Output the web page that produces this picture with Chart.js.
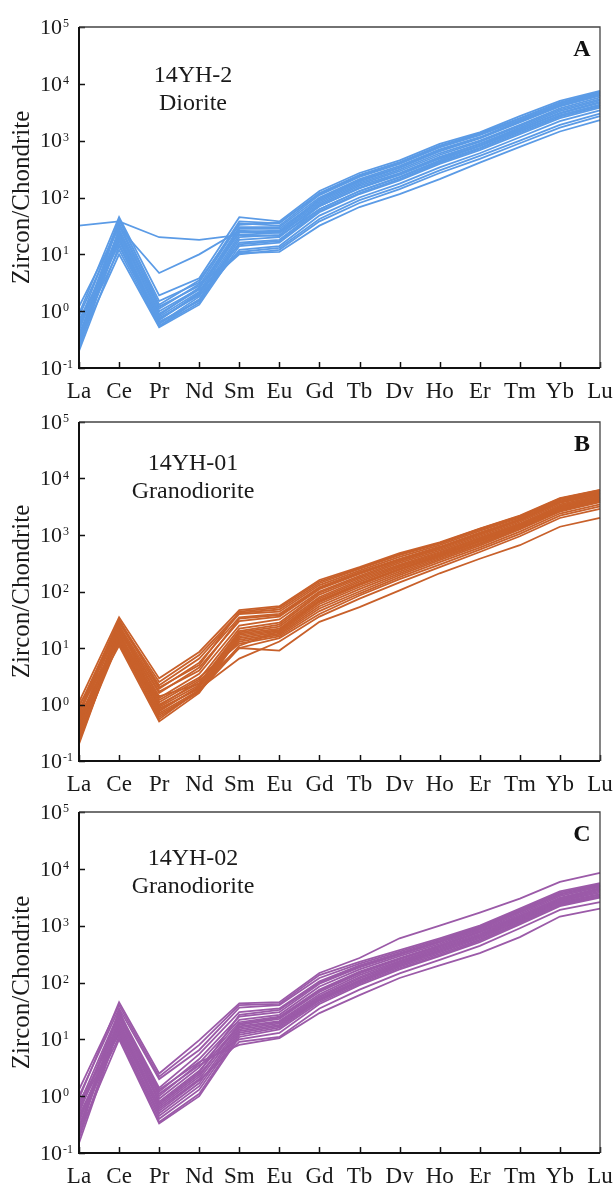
<!DOCTYPE html>
<html>
<head>
<meta charset="utf-8">
<title>Zircon REE patterns</title>
<script src="https://cdn.jsdelivr.net/npm/chart.js@4.4.1/dist/chart.umd.min.js"></script>
<style>
  html, body { margin: 0; padding: 0; background: #fff; }
  #wrap { position: relative; width: 615px; height: 1185px; overflow: hidden; }
  .panel { position: absolute; left: 0; width: 615px; }
  .panel canvas { display: block; }
</style>
</head>
<body>
<div id="wrap">
  <div class="panel" style="top:0;height:410px"><canvas id="chartA" width="615" height="410"></canvas></div>
  <div class="panel" style="top:395px;height:410px"><canvas id="chartB" width="615" height="410"></canvas></div>
  <div class="panel" style="top:788px;height:397px"><canvas id="chartC" width="615" height="397"></canvas></div>
</div>
<script>
// REE order on the x axis
const elements = ["La", "Ce", "Pr", "Nd", "Sm", "Eu", "Gd", "Tb", "Dy", "Ho", "Er", "Tm", "Yb", "Lu"];

// decades shown on the log axis (10^-1 .. 10^5)
const yExponents = [-1, 0, 1, 2, 3, 4, 5];

// 14YH-2 diorite, chondrite-normalised zircon spots
const seriesA = [
  [32, 38, 20, 18, 22, 21, 62, 130, 230, 450, 800, 1500, 2800, 4200],
  [1.2, 30, 4.7, 10, 26, 24, 70, 150, 260, 500, 880, 1600, 3000, 4600],
  [0.9, 45, 1.9, 3.8, 45, 38, 130, 270, 450, 880, 1400, 2700, 5000, 7500],
  [0.6, 40, 1.5, 3.2, 38, 35, 120, 250, 420, 820, 1350, 2500, 4700, 7200],
  [0.45, 35, 1.2, 2.8, 35, 32, 110, 230, 390, 760, 1250, 2300, 4400, 6800],
  [0.3, 28, 1.0, 2.5, 30, 30, 100, 210, 360, 700, 1150, 2200, 4200, 6500],
  [0.25, 25, 0.8, 2.2, 28, 28, 90, 190, 330, 650, 1100, 2100, 4000, 6200],
  [0.22, 22, 0.7, 2.0, 25, 26, 85, 180, 310, 600, 1000, 1900, 3700, 5800],
  [0.35, 20, 0.6, 1.8, 22, 24, 80, 170, 290, 560, 950, 1800, 3500, 5400],
  [0.5, 18, 0.55, 1.6, 20, 22, 75, 160, 270, 520, 880, 1700, 3300, 5100],
  [0.7, 15, 0.65, 1.5, 18, 20, 70, 145, 250, 480, 820, 1600, 3100, 4800],
  [0.4, 12, 0.55, 1.4, 16, 18, 62, 130, 225, 430, 750, 1450, 2800, 4300],
  [0.28, 10, 0.52, 1.3, 14, 16, 55, 115, 200, 390, 680, 1300, 2500, 3800],
  [0.2, 14, 0.6, 1.6, 12, 14, 48, 100, 175, 340, 600, 1150, 2200, 3400],
  [0.32, 17, 0.75, 1.9, 11, 13, 42, 90, 155, 300, 540, 1000, 1900, 3000],
  [0.55, 24, 0.9, 2.4, 10, 12, 38, 80, 140, 270, 480, 900, 1700, 2700],
  [0.8, 32, 1.1, 3.0, 10.5, 11, 32, 68, 115, 210, 410, 780, 1450, 2300],
  [0.24, 42, 1.3, 3.5, 33, 36, 115, 240, 400, 800, 1300, 2450, 4600, 7000],
  [0.38, 26, 0.85, 2.6, 24, 25, 95, 200, 340, 680, 1120, 2150, 4100, 6300],
  [0.3, 19, 0.7, 2.1, 15, 17, 58, 120, 210, 410, 720, 1380, 2650, 4000]
];

// 14YH-01 granodiorite
const seriesB = [
  [1.1, 35, 2.9, 8.5, 47, 55, 160, 270, 480, 740, 1300, 2200, 4500, 6300],
  [0.9, 30, 2.5, 7.5, 42, 48, 140, 250, 440, 700, 1250, 2100, 4300, 6000],
  [0.7, 28, 2.2, 6.5, 40, 44, 130, 235, 410, 660, 1180, 2000, 4100, 5800],
  [0.5, 25, 1.9, 5.5, 35, 40, 120, 220, 380, 620, 1100, 1900, 3900, 5600],
  [0.35, 22, 1.6, 4.5, 30, 36, 110, 205, 360, 590, 1050, 1850, 3800, 5400],
  [0.25, 20, 1.3, 3.5, 25, 32, 100, 190, 340, 560, 1000, 1800, 3700, 5200],
  [0.2, 18, 1.1, 2.8, 22, 28, 95, 180, 320, 530, 950, 1700, 3500, 5000],
  [0.3, 16, 1.0, 2.4, 20, 26, 88, 170, 300, 500, 900, 1600, 3300, 4800],
  [0.45, 15, 0.9, 2.2, 19, 24, 80, 160, 285, 480, 860, 1550, 3200, 4600],
  [0.6, 14, 0.8, 2.0, 18, 22, 75, 150, 270, 460, 820, 1500, 3100, 4500],
  [0.8, 13, 0.7, 1.8, 17, 21, 70, 140, 255, 440, 790, 1450, 3000, 4300],
  [1.0, 12, 0.6, 1.7, 16, 20, 65, 130, 240, 420, 760, 1400, 2900, 4200],
  [0.55, 11, 0.5, 1.6, 15, 19, 60, 120, 225, 400, 720, 1350, 2800, 4000],
  [0.4, 19, 0.75, 2.1, 14, 18, 55, 110, 210, 380, 690, 1300, 2700, 3900],
  [0.28, 24, 0.95, 2.6, 13, 17, 50, 100, 195, 360, 650, 1250, 2600, 3800],
  [0.22, 17, 1.2, 3.0, 12, 16, 45, 92, 180, 330, 600, 1150, 2400, 3500],
  [0.33, 21, 1.4, 2.3, 10, 15, 40, 85, 165, 300, 550, 1050, 2200, 3200],
  [0.65, 26, 0.85, 1.9, 6.5, 13, 36, 75, 145, 270, 500, 950, 2000, 2900],
  [0.48, 15, 0.65, 1.7, 10, 9, 29, 53, 105, 210, 380, 660, 1400, 2000],
  [0.75, 32, 2.0, 5.0, 44, 52, 150, 260, 460, 720, 1280, 2150, 4400, 6200],
  [0.38, 23, 1.7, 4.0, 33, 38, 115, 210, 370, 600, 1080, 1880, 3850, 5500],
  [0.26, 13, 0.55, 1.8, 11, 20, 68, 135, 245, 430, 780, 1420, 2950, 4250]
];

// 14YH-02 granodiorite
const seriesC = [
  [0.9, 45, 2.5, 9.7, 43, 45, 147, 270, 600, 1000, 1700, 3000, 5900, 8500],
  [1.3, 40, 2.2, 8.0, 40, 42, 135, 230, 370, 600, 1000, 2000, 4000, 5600],
  [1.0, 35, 2.0, 6.5, 36, 40, 120, 215, 350, 570, 960, 1900, 3800, 5400],
  [0.7, 30, 1.4, 5.5, 30, 35, 105, 200, 330, 540, 920, 1800, 3600, 5200],
  [0.5, 26, 1.2, 4.5, 25, 30, 95, 185, 310, 510, 880, 1700, 3500, 5000],
  [0.35, 22, 1.0, 3.8, 22, 27, 85, 170, 290, 480, 840, 1600, 3300, 4800],
  [0.25, 20, 0.9, 3.2, 20, 25, 75, 155, 270, 450, 800, 1500, 3100, 4600],
  [0.18, 18, 0.8, 2.8, 18, 23, 68, 145, 255, 430, 760, 1450, 3000, 4400],
  [0.15, 16, 0.7, 2.4, 17, 21, 62, 135, 240, 410, 720, 1400, 2900, 4200],
  [0.3, 15, 0.6, 2.0, 16, 20, 58, 125, 230, 390, 690, 1350, 2800, 4000],
  [0.45, 14, 0.5, 1.7, 15, 19, 55, 118, 220, 370, 660, 1300, 2700, 3800],
  [0.6, 13, 0.45, 1.5, 14, 18, 52, 110, 210, 355, 630, 1250, 2600, 3600],
  [0.8, 12, 0.4, 1.3, 13, 17, 50, 105, 200, 340, 600, 1200, 2500, 3500],
  [0.4, 11, 0.35, 1.1, 12, 16, 48, 100, 190, 320, 570, 1150, 2400, 3300],
  [0.22, 10, 0.33, 1.0, 11, 15, 45, 95, 180, 300, 540, 1100, 2300, 3200],
  [0.28, 24, 1.1, 3.5, 10, 13, 42, 90, 170, 290, 510, 1050, 2200, 3100],
  [0.55, 28, 1.3, 4.0, 8, 10.5, 29, 60, 120, 200, 330, 630, 1450, 2000],
  [0.38, 17, 0.55, 1.9, 9, 11, 35, 75, 145, 250, 440, 900, 1900, 2600],
  [0.2, 33, 0.75, 2.6, 27, 33, 100, 190, 320, 525, 900, 1750, 3550, 5100],
  [0.65, 19, 0.65, 2.2, 19, 24, 72, 150, 262, 440, 780, 1480, 3050, 4500]
];

const SERIF = '"Liberation Serif", "Times New Roman", serif';

const panels = [
  { id: "chartA", letter: "A", sample: "14YH-2", rock: "Diorite", color: "#5b9be6", data: seriesA, top: 27, bottom: 368, textY: 49 },
  { id: "chartB", letter: "B", sample: "14YH-01", rock: "Granodiorite", color: "#c8602a", data: seriesB, top: 27, bottom: 366, textY: 42 },
  { id: "chartC", letter: "C", sample: "14YH-02", rock: "Granodiorite", color: "#9b5aa8", data: seriesC, top: 24, bottom: 365, textY: 47 }
];

// frame, inward ticks, 10^n labels, axis title and panel captions
const decorPlugin = {
  id: "decor",
  afterDraw(chart, args, opts) {
    const { ctx, chartArea: a, scales } = chart;
    const xs = scales.x, ys = scales.y;
    ctx.save();

    // inward tick marks
    ctx.strokeStyle = "#111";
    ctx.lineWidth = 1.5;
    ctx.beginPath();
    yExponents.forEach(e => {
      const y = Math.round(ys.getPixelForValue(Math.pow(10, e))) + 0.5;
      ctx.moveTo(a.left, y); ctx.lineTo(a.left + 6, y);
    });
    elements.forEach((el, i) => {
      const x = Math.round(xs.getPixelForValue(i)) + 0.5;
      ctx.moveTo(x, a.bottom); ctx.lineTo(x, a.bottom - 6);
    });
    ctx.stroke();

    // frame: heavier left/bottom
    ctx.strokeStyle = "#444";
    ctx.lineWidth = 1.3;
    ctx.beginPath();
    ctx.moveTo(a.left, a.top); ctx.lineTo(a.right, a.top); ctx.lineTo(a.right, a.bottom);
    ctx.stroke();
    ctx.strokeStyle = "#111";
    ctx.lineWidth = 2;
    ctx.beginPath();
    ctx.moveTo(a.left, a.top); ctx.lineTo(a.left, a.bottom); ctx.lineTo(a.right, a.bottom);
    ctx.stroke();

    // y labels as 10 with superscript exponent
    ctx.fillStyle = "#1a1a1a";
    yExponents.forEach(e => {
      const y = ys.getPixelForValue(Math.pow(10, e));
      ctx.font = "22px " + SERIF;
      ctx.textAlign = "right";
      ctx.textBaseline = "middle";
      ctx.fillText("10", 62, y + 1);
      ctx.font = "12px " + SERIF;
      ctx.textAlign = "left";
      ctx.textBaseline = "top";
      ctx.fillText(String(e), 63, y - 9);
    });

    // axis title
    ctx.save();
    ctx.translate(22, (a.top + a.bottom) / 2);
    ctx.rotate(-Math.PI / 2);
    ctx.font = "25px " + SERIF;
    ctx.textAlign = "center";
    ctx.textBaseline = "middle";
    ctx.fillText("Zircon/Chondrite", 0, 0);
    ctx.restore();

    // sample name and rock type
    ctx.font = "24px " + SERIF;
    ctx.textAlign = "center";
    ctx.textBaseline = "middle";
    ctx.fillText(opts.sample, 193, a.top + opts.textY);
    ctx.fillText(opts.rock, 193, a.top + opts.textY + 28);

    // panel letter
    ctx.font = "bold 24px " + SERIF;
    ctx.fillStyle = "#111";
    ctx.fillText(opts.letter, 582, a.top + 23);
    ctx.restore();
  }
};

panels.forEach(p => {
  const canvas = document.getElementById(p.id);
  const H = canvas.height;
  const xAxisH = 30;
  new Chart(canvas, {
    type: "line",
    data: {
      labels: elements,
      datasets: p.data.map((vals, i) => ({
        label: p.sample + " #" + (i + 1),
        data: vals,
        borderColor: p.color,
        borderWidth: 1.8,
        pointRadius: 0,
        tension: 0,
        fill: false
      }))
    },
    options: {
      responsive: false,
      animation: false,
      events: [],
      layout: { padding: { top: p.top, right: 15, left: 0, bottom: H - p.bottom - xAxisH } },
      plugins: {
        legend: { display: false },
        tooltip: { enabled: false },
        decor: { letter: p.letter, sample: p.sample, rock: p.rock, textY: p.textY }
      },
      scales: {
        x: {
          type: "category",
          offset: false,
          grid: { display: false, drawTicks: false },
          border: { display: false },
          ticks: {
            autoSkip: false, maxRotation: 0, padding: 10,
            color: "#1a1a1a",
            font: { family: SERIF, size: 23 }
          },
          afterFit(scale) {
            scale.height = xAxisH;
            scale.paddingLeft = 0;
            scale.paddingRight = 0;
          }
        },
        y: {
          type: "logarithmic",
          min: 0.1,
          max: 100000,
          grid: { display: false },
          border: { display: false },
          ticks: { display: false },
          afterFit(scale) { scale.width = 79; }
        }
      }
    },
    plugins: [decorPlugin]
  });
});
</script>
</body>
</html>
